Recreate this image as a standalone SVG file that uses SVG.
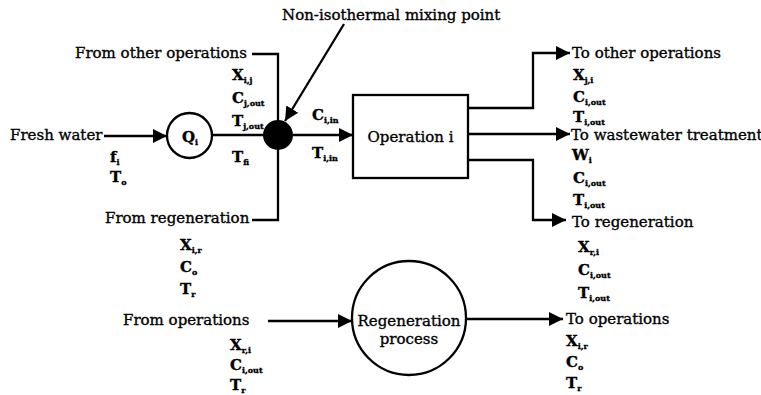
<svg xmlns="http://www.w3.org/2000/svg" width="761" height="395" viewBox="0 0 761 395">
<defs>
<marker id="arr" markerUnits="userSpaceOnUse" markerWidth="16" markerHeight="16" viewBox="0 0 16 16" refX="14" refY="8" orient="auto">
<path d="M0,1 L14,8 L0,15 Z" fill="#000"/>
</marker>
<style>
text{font-family:"DejaVu Serif","Liberation Serif",serif;font-size:15px;fill:#000;stroke:#000;stroke-width:0.35}
.v{font-weight:bold;font-size:15px}
.s{font-size:8px;font-weight:bold}
.ln{fill:none;stroke:#000;stroke-width:2.3}
.nd{fill:#fff;stroke:#000;stroke-width:2.3}
</style>
</defs>
<rect width="761" height="395" fill="#fff"/>

<g id="connectors">
<line class="ln" x1="104" y1="136" x2="167" y2="136" marker-end="url(#arr)"/>
<line class="ln" x1="212" y1="135" x2="264" y2="135"/>
<polyline class="ln" points="252,54 278,54 278,220 252,220"/>
<line class="ln" x1="293" y1="135" x2="353" y2="135" marker-end="url(#arr)"/>
<line class="ln" x1="344" y1="24" x2="285" y2="121" marker-end="url(#arr)"/>
<polyline class="ln" points="468,108 533,108 533,53 570,53" marker-end="url(#arr)"/>
<line class="ln" x1="468" y1="134" x2="570" y2="134" marker-end="url(#arr)"/>
<polyline class="ln" points="468,160 533,160 533,220 566,220" marker-end="url(#arr)"/>
<line class="ln" x1="268" y1="321" x2="352" y2="321" marker-end="url(#arr)"/>
<line class="ln" x1="466" y1="319" x2="563" y2="319" marker-end="url(#arr)"/>
</g>

<g id="fresh-water">
<text x="10" y="140">Fresh water</text>
<text class="v" x="110" y="162">f<tspan class="s" dy="3">i</tspan></text>
<text class="v" x="110" y="182">T<tspan class="s" dy="3">o</tspan></text>
</g>

<g id="node-q">
<circle class="nd" cx="189.5" cy="135.5" r="22.5"/>
<text class="v" x="182" y="142">Q<tspan class="s" dy="3">i</tspan></text>
</g>

<g id="node-mix">
<circle cx="278" cy="135" r="15" fill="#000"/>
<text x="282" y="20">Non-isothermal mixing point</text>
</g>

<g id="from-other">
<text x="75" y="58">From other operations</text>
<text class="v" x="232" y="80">X<tspan class="s" dy="3">i,j</tspan></text>
<text class="v" x="232" y="103">C<tspan class="s" dy="3">j,out</tspan></text>
<text class="v" x="232" y="126">T<tspan class="s" dy="3">j,out</tspan></text>
<text class="v" x="232" y="162">T<tspan class="s" dy="3">fi</tspan></text>
</g>

<g id="from-regeneration">
<text x="105" y="223">From regeneration</text>
<text class="v" x="180" y="250">X<tspan class="s" dy="3">i,r</tspan></text>
<text class="v" x="180" y="272">C<tspan class="s" dy="3">o</tspan></text>
<text class="v" x="180" y="294">T<tspan class="s" dy="3">r</tspan></text>
</g>

<g id="inlet-labels">
<text class="v" x="312" y="120">C<tspan class="s" dy="3">i,in</tspan></text>
<text class="v" x="312" y="158">T<tspan class="s" dy="3">i,in</tspan></text>
</g>

<g id="operation">
<rect class="nd" x="353" y="95" width="115" height="83"/>
<text x="410.5" y="142" text-anchor="middle">Operation i</text>
</g>

<g id="to-other">
<text x="572" y="58">To other operations</text>
<text class="v" x="573" y="80">X<tspan class="s" dy="3">j,i</tspan></text>
<text class="v" x="573" y="102">C<tspan class="s" dy="3">i,out</tspan></text>
<text class="v" x="573" y="122">T<tspan class="s" dy="3">i,out</tspan></text>
</g>

<g id="to-wastewater">
<text x="571" y="140">To wastewater treatment</text>
<text class="v" x="572" y="160">W<tspan class="s" dy="3">i</tspan></text>
<text class="v" x="573" y="183">C<tspan class="s" dy="3">i,out</tspan></text>
<text class="v" x="573" y="205">T<tspan class="s" dy="3">i,out</tspan></text>
</g>

<g id="to-regeneration">
<text x="572" y="227">To regeneration</text>
<text class="v" x="578" y="252">X<tspan class="s" dy="3">r,i</tspan></text>
<text class="v" x="578" y="275">C<tspan class="s" dy="3">i,out</tspan></text>
<text class="v" x="578" y="298">T<tspan class="s" dy="3">i,out</tspan></text>
</g>

<g id="from-operations">
<text x="123" y="325">From operations</text>
<text class="v" x="230" y="350">X<tspan class="s" dy="3">r,i</tspan></text>
<text class="v" x="230" y="370">C<tspan class="s" dy="3">i,out</tspan></text>
<text class="v" x="230" y="390">T<tspan class="s" dy="3">r</tspan></text>
</g>

<g id="regeneration">
<circle class="nd" cx="409" cy="318" r="57"/>
<text x="409" y="326" text-anchor="middle">Regeneration</text>
<text x="409" y="344" text-anchor="middle">process</text>
</g>

<g id="to-operations">
<text x="566" y="324">To operations</text>
<text class="v" x="566" y="346">X<tspan class="s" dy="3">i,r</tspan></text>
<text class="v" x="566" y="367">C<tspan class="s" dy="3">o</tspan></text>
<text class="v" x="566" y="388">T<tspan class="s" dy="3">r</tspan></text>
</g>
</svg>
